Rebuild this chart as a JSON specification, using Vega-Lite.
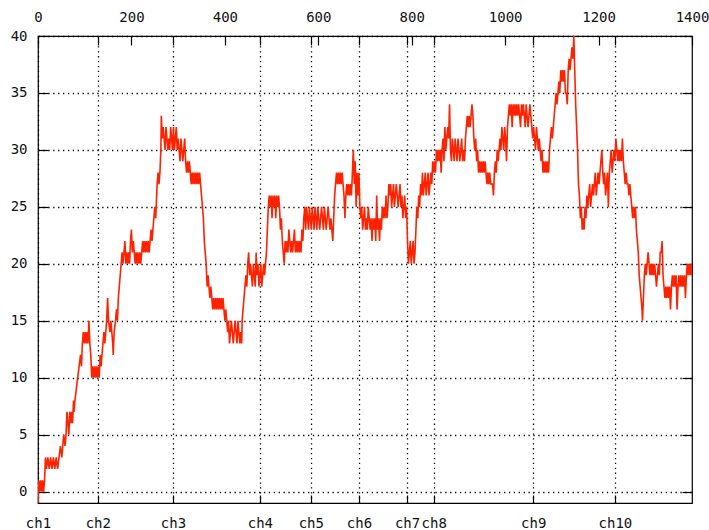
{
  "$schema": "https://vega.github.io/schema/vega-lite/v6.json",
  "width": 654,
  "height": 467,
  "autosize": {"type": "none"},
  "padding": {"left": 38, "top": 36, "right": 17, "bottom": 27},
  "background": "white",
  "config": {
    "view": {"stroke": "#000", "strokeWidth": 1.2},
    "axis": {
      "labelFont": "DejaVu Sans Mono",
      "labelFontSize": 14,
      "labelColor": "#111",
      "domain": false,
      "tickColor": "#000",
      "tickWidth": 1.2,
      "gridColor": "#000",
      "gridDash": [1.3, 3.6],
      "gridWidth": 1.3,
      "gridOpacity": 1,
      "title": null
    }
  },
  "data": {
    "values": [
      {"x":0,"y":-1},{"x":2,"y":1},{"x":4,"y":0},{"x":6,"y":1},{"x":8,"y":0},{"x":10,"y":1},{"x":12,"y":0},{"x":14,"y":1},
      {"x":16,"y":3},{"x":18,"y":2},{"x":21,"y":3},{"x":24,"y":2},{"x":27,"y":3},{"x":30,"y":2},{"x":33,"y":3},{"x":36,"y":2},{"x":39,"y":3},{"x":42,"y":2},{"x":45,"y":3},
      {"x":48,"y":4},{"x":51,"y":3},{"x":53,"y":4},{"x":55,"y":5},{"x":58,"y":4},{"x":60,"y":5},
      {"x":62,"y":7},{"x":64,"y":6},{"x":66,"y":5},{"x":68,"y":7},{"x":70,"y":6},{"x":72,"y":7},{"x":74,"y":6},{"x":76,"y":8},{"x":77,"y":7},{"x":79,"y":8},
      {"x":82,"y":9},{"x":85,"y":10},{"x":88,"y":11},{"x":91,"y":12},{"x":93,"y":11},{"x":95,"y":13},
      {"x":97,"y":14},{"x":99,"y":13},{"x":101,"y":14},{"x":103,"y":13},{"x":105,"y":14},{"x":107,"y":13},{"x":109,"y":15},{"x":111,"y":13},{"x":113,"y":12},
      {"x":115,"y":10},{"x":117,"y":11},{"x":119,"y":10},{"x":121,"y":11},{"x":123,"y":10},{"x":125,"y":11},{"x":127,"y":10},{"x":129,"y":11},{"x":131,"y":10},{"x":133,"y":12},{"x":135,"y":11},{"x":137,"y":12},
      {"x":139,"y":13},{"x":141,"y":14},{"x":143,"y":13},{"x":145,"y":14},{"x":147,"y":15},{"x":149,"y":17},{"x":151,"y":15},{"x":154,"y":14},{"x":156,"y":15},{"x":158,"y":14},{"x":160,"y":13},{"x":161,"y":12},{"x":163,"y":14},{"x":166,"y":15},{"x":168,"y":16},{"x":170,"y":15},{"x":172,"y":17},{"x":174,"y":18},
      {"x":176,"y":19},{"x":178,"y":20},{"x":180,"y":21},{"x":182,"y":20},{"x":184,"y":21},{"x":186,"y":22},{"x":188,"y":20},{"x":190,"y":21},{"x":192,"y":20},{"x":194,"y":21},{"x":196,"y":20},{"x":198,"y":22},{"x":200,"y":23},{"x":202,"y":21},{"x":204,"y":22},{"x":206,"y":21},{"x":208,"y":20},
      {"x":210,"y":21},{"x":212,"y":20},{"x":214,"y":21},{"x":216,"y":20},{"x":218,"y":21},{"x":220,"y":20},{"x":222,"y":21},{"x":224,"y":22},{"x":226,"y":21},{"x":228,"y":22},{"x":230,"y":21},{"x":232,"y":22},{"x":234,"y":21},{"x":236,"y":22},{"x":238,"y":21},{"x":240,"y":22},
      {"x":242,"y":23},{"x":244,"y":22},{"x":246,"y":23},{"x":248,"y":24},{"x":250,"y":25},{"x":252,"y":24},{"x":254,"y":26},{"x":255,"y":27},{"x":257,"y":28},{"x":259,"y":27},{"x":261,"y":28},{"x":263,"y":30},{"x":264,"y":33},{"x":266,"y":31},{"x":268,"y":32},{"x":270,"y":31},{"x":272,"y":30},{"x":274,"y":32},{"x":276,"y":31},
      {"x":278,"y":30},{"x":280,"y":31},{"x":282,"y":30},{"x":284,"y":32},{"x":286,"y":31},{"x":288,"y":30},{"x":290,"y":32},{"x":292,"y":30},{"x":294,"y":31},{"x":296,"y":32},{"x":298,"y":30},{"x":300,"y":31},
      {"x":302,"y":30},{"x":304,"y":29},{"x":306,"y":31},{"x":308,"y":30},{"x":310,"y":29},{"x":312,"y":30},{"x":314,"y":31},{"x":316,"y":29},{"x":318,"y":28},{"x":320,"y":29},{"x":322,"y":28},{"x":324,"y":29},{"x":326,"y":28},{"x":328,"y":27},
      {"x":330,"y":28},{"x":332,"y":27},{"x":334,"y":28},{"x":336,"y":27},{"x":338,"y":28},{"x":340,"y":27},{"x":342,"y":28},{"x":344,"y":27},{"x":346,"y":28},{"x":348,"y":27},{"x":350,"y":26},{"x":352,"y":25},{"x":354,"y":24},{"x":356,"y":22},{"x":358,"y":21},{"x":360,"y":20},{"x":361,"y":19},
      {"x":362,"y":18},{"x":364,"y":19},{"x":366,"y":18},{"x":368,"y":17},{"x":370,"y":18},{"x":372,"y":17},{"x":374,"y":16},{"x":376,"y":17},{"x":378,"y":16},{"x":380,"y":17},{"x":382,"y":16},{"x":384,"y":17},{"x":386,"y":16},{"x":388,"y":17},{"x":390,"y":16},{"x":392,"y":17},{"x":394,"y":16},{"x":396,"y":17},{"x":398,"y":16},{"x":400,"y":15},{"x":402,"y":16},{"x":404,"y":15},
      {"x":406,"y":14},{"x":408,"y":15},{"x":410,"y":13},{"x":412,"y":14},{"x":414,"y":15},{"x":416,"y":14},{"x":418,"y":13},{"x":420,"y":14},{"x":422,"y":15},{"x":424,"y":14},{"x":426,"y":13},{"x":428,"y":15},{"x":430,"y":14},{"x":432,"y":13},{"x":434,"y":14},{"x":436,"y":13},
      {"x":437,"y":15},{"x":439,"y":16},{"x":441,"y":17},{"x":443,"y":18},{"x":445,"y":19},{"x":447,"y":18},{"x":449,"y":20},{"x":451,"y":21},{"x":453,"y":19},{"x":455,"y":20},
      {"x":457,"y":19},{"x":459,"y":18},{"x":461,"y":20},{"x":463,"y":19},{"x":465,"y":18},{"x":467,"y":21},{"x":469,"y":19},{"x":471,"y":20},{"x":473,"y":18},{"x":475,"y":19},{"x":477,"y":20},{"x":479,"y":18},{"x":481,"y":19},{"x":483,"y":20},{"x":485,"y":19},{"x":487,"y":20},{"x":489,"y":21},
      {"x":491,"y":23},{"x":493,"y":25},{"x":495,"y":26},{"x":497,"y":25},{"x":499,"y":26},{"x":501,"y":24},{"x":503,"y":26},{"x":505,"y":25},{"x":507,"y":26},{"x":509,"y":24},{"x":511,"y":26},{"x":513,"y":25},{"x":515,"y":26},{"x":517,"y":25},
      {"x":519,"y":23},{"x":521,"y":24},{"x":523,"y":22},{"x":525,"y":21},{"x":527,"y":20},{"x":529,"y":22},
      {"x":531,"y":21},{"x":533,"y":22},{"x":535,"y":21},{"x":537,"y":23},{"x":539,"y":22},{"x":541,"y":21},{"x":543,"y":22},{"x":545,"y":21},{"x":547,"y":22},{"x":549,"y":23},{"x":551,"y":21},{"x":553,"y":22},{"x":555,"y":21},{"x":557,"y":22},{"x":559,"y":21},{"x":561,"y":22},{"x":563,"y":21},
      {"x":565,"y":23},{"x":567,"y":22},{"x":569,"y":24},{"x":571,"y":25},{"x":573,"y":23},{"x":575,"y":25},{"x":577,"y":24},{"x":579,"y":23},{"x":581,"y":25},
      {"x":583,"y":24},{"x":585,"y":23},{"x":587,"y":25},{"x":589,"y":24},{"x":591,"y":23},{"x":593,"y":25},{"x":595,"y":24},{"x":597,"y":23},{"x":599,"y":25},{"x":601,"y":24},{"x":603,"y":23},{"x":605,"y":24},{"x":607,"y":25},{"x":609,"y":24},{"x":611,"y":23},{"x":613,"y":25},{"x":615,"y":24},{"x":617,"y":23},{"x":619,"y":24},{"x":621,"y":25},{"x":623,"y":24},{"x":625,"y":23},{"x":627,"y":24},{"x":629,"y":23},{"x":631,"y":22},{"x":633,"y":24},
      {"x":635,"y":26},{"x":637,"y":27},{"x":639,"y":28},{"x":641,"y":27},{"x":643,"y":28},{"x":645,"y":27},{"x":647,"y":28},{"x":649,"y":27},{"x":651,"y":28},{"x":653,"y":27},{"x":655,"y":26},{"x":657,"y":24},{"x":659,"y":26},
      {"x":661,"y":27},{"x":663,"y":26},{"x":665,"y":27},{"x":667,"y":26},{"x":669,"y":27},{"x":671,"y":26},{"x":673,"y":28},{"x":675,"y":30},{"x":677,"y":27},{"x":679,"y":29},{"x":681,"y":25},{"x":683,"y":28},{"x":685,"y":26},{"x":687,"y":28},{"x":689,"y":25},
      {"x":691,"y":24},{"x":693,"y":25},{"x":695,"y":23},{"x":697,"y":24},{"x":699,"y":25},{"x":701,"y":23},{"x":703,"y":24},{"x":705,"y":23},{"x":707,"y":25},{"x":709,"y":24},{"x":711,"y":23},{"x":713,"y":24},{"x":715,"y":22},
      {"x":717,"y":24},{"x":719,"y":23},{"x":721,"y":24},{"x":723,"y":22},{"x":725,"y":26},{"x":727,"y":23},{"x":729,"y":24},{"x":731,"y":22},{"x":733,"y":24},{"x":735,"y":23},{"x":737,"y":25},
      {"x":739,"y":24},{"x":741,"y":25},{"x":743,"y":24},{"x":745,"y":26},{"x":747,"y":24},{"x":749,"y":25},
      {"x":751,"y":27},{"x":753,"y":26},{"x":755,"y":27},{"x":757,"y":25},{"x":759,"y":26},{"x":761,"y":27},{"x":763,"y":25},{"x":765,"y":26},{"x":767,"y":27},{"x":769,"y":26},{"x":771,"y":25},{"x":773,"y":26},{"x":775,"y":27},
      {"x":777,"y":25},{"x":779,"y":26},{"x":781,"y":24},{"x":783,"y":25},{"x":785,"y":26},{"x":787,"y":24},{"x":789,"y":25},
      {"x":791,"y":22},{"x":793,"y":20},{"x":795,"y":21},{"x":797,"y":22},{"x":799,"y":20},{"x":801,"y":21},{"x":803,"y":22},{"x":805,"y":20},{"x":807,"y":21},
      {"x":809,"y":23},{"x":811,"y":25},{"x":813,"y":24},{"x":815,"y":26},{"x":817,"y":25},
      {"x":819,"y":27},{"x":821,"y":26},{"x":823,"y":28},{"x":825,"y":26},{"x":827,"y":27},{"x":829,"y":28},{"x":831,"y":26},{"x":833,"y":27},{"x":835,"y":28},{"x":837,"y":26},{"x":839,"y":27},{"x":841,"y":28},
      {"x":843,"y":27},{"x":845,"y":29},{"x":847,"y":28},{"x":849,"y":29},{"x":851,"y":28},{"x":853,"y":30},{"x":855,"y":29},{"x":857,"y":30},{"x":859,"y":29},{"x":861,"y":30},{"x":863,"y":28},
      {"x":865,"y":30},{"x":867,"y":31},{"x":869,"y":29},{"x":871,"y":32},{"x":873,"y":30},{"x":875,"y":31},{"x":877,"y":32},{"x":879,"y":31},{"x":881,"y":34},
      {"x":883,"y":30},{"x":885,"y":29},{"x":887,"y":31},{"x":889,"y":30},{"x":891,"y":29},{"x":893,"y":31},{"x":895,"y":30},{"x":897,"y":29},{"x":899,"y":31},{"x":901,"y":30},{"x":903,"y":29},{"x":905,"y":30},{"x":907,"y":31},{"x":909,"y":29},{"x":911,"y":30},{"x":913,"y":29},{"x":915,"y":31},
      {"x":917,"y":32},{"x":919,"y":33},{"x":921,"y":32},{"x":923,"y":33},{"x":925,"y":32},{"x":927,"y":33},{"x":929,"y":34},{"x":931,"y":33},
      {"x":933,"y":31},{"x":935,"y":30},{"x":937,"y":31},{"x":939,"y":29},{"x":941,"y":30},{"x":943,"y":28},{"x":945,"y":29},{"x":947,"y":28},
      {"x":949,"y":29},{"x":951,"y":28},{"x":953,"y":29},{"x":955,"y":28},{"x":957,"y":29},{"x":959,"y":28},{"x":961,"y":27},{"x":963,"y":28},{"x":965,"y":27},{"x":967,"y":28},{"x":969,"y":27},{"x":971,"y":27},{"x":973,"y":27},{"x":975,"y":26},{"x":977,"y":28},
      {"x":979,"y":29},{"x":981,"y":28},{"x":983,"y":30},{"x":985,"y":29},{"x":987,"y":30},{"x":989,"y":31},{"x":991,"y":30},{"x":993,"y":32},{"x":995,"y":31},{"x":997,"y":30},{"x":999,"y":32},{"x":1001,"y":31},{"x":1003,"y":29},
      {"x":1005,"y":32},{"x":1007,"y":33},{"x":1009,"y":34},{"x":1011,"y":33},{"x":1013,"y":34},{"x":1015,"y":32},{"x":1017,"y":34},{"x":1019,"y":33},{"x":1021,"y":34},{"x":1023,"y":33},{"x":1025,"y":34},{"x":1027,"y":33},{"x":1029,"y":34},{"x":1031,"y":33},{"x":1033,"y":32},{"x":1035,"y":34},{"x":1037,"y":33},{"x":1039,"y":34},{"x":1041,"y":33},{"x":1043,"y":32},{"x":1045,"y":34},
      {"x":1047,"y":33},{"x":1049,"y":32},{"x":1051,"y":33},{"x":1053,"y":34},{"x":1055,"y":33},{"x":1057,"y":32},
      {"x":1059,"y":31},{"x":1061,"y":32},{"x":1063,"y":31},{"x":1065,"y":30},{"x":1067,"y":32},{"x":1069,"y":31},{"x":1071,"y":30},{"x":1073,"y":31},{"x":1075,"y":30},
      {"x":1077,"y":29},{"x":1079,"y":30},{"x":1081,"y":28},{"x":1083,"y":29},{"x":1085,"y":28},{"x":1087,"y":29},{"x":1089,"y":28},{"x":1091,"y":29},{"x":1093,"y":28},
      {"x":1095,"y":30},{"x":1097,"y":31},{"x":1099,"y":32},{"x":1101,"y":31},{"x":1103,"y":32},{"x":1105,"y":33},
      {"x":1107,"y":34},{"x":1109,"y":35},{"x":1111,"y":34},{"x":1113,"y":35},{"x":1115,"y":36},{"x":1117,"y":35},
      {"x":1119,"y":37},{"x":1121,"y":36},{"x":1123,"y":37},{"x":1125,"y":36},{"x":1127,"y":37},{"x":1129,"y":35},{"x":1131,"y":35},{"x":1133,"y":34},
      {"x":1135,"y":37},{"x":1137,"y":38},{"x":1139,"y":37},{"x":1141,"y":38},{"x":1143,"y":39},{"x":1145,"y":38},{"x":1147,"y":40},
      {"x":1149,"y":37},{"x":1151,"y":34},{"x":1153,"y":32},{"x":1155,"y":30},{"x":1157,"y":27},{"x":1159,"y":26},
      {"x":1161,"y":24},{"x":1163,"y":25},{"x":1165,"y":23},{"x":1167,"y":24},{"x":1169,"y":23},{"x":1171,"y":25},{"x":1173,"y":24},{"x":1175,"y":26},
      {"x":1177,"y":25},{"x":1179,"y":26},{"x":1181,"y":27},{"x":1183,"y":25},{"x":1185,"y":26},{"x":1187,"y":27},{"x":1189,"y":26},
      {"x":1191,"y":27},{"x":1193,"y":28},{"x":1195,"y":26},{"x":1197,"y":27},{"x":1199,"y":28},{"x":1201,"y":27},{"x":1203,"y":28},{"x":1205,"y":29},{"x":1207,"y":30},
      {"x":1209,"y":28},{"x":1211,"y":27},{"x":1213,"y":28},{"x":1215,"y":26},{"x":1217,"y":27},{"x":1219,"y":28},{"x":1221,"y":25},
      {"x":1223,"y":28},{"x":1225,"y":29},{"x":1227,"y":30},{"x":1229,"y":28},{"x":1231,"y":29},{"x":1233,"y":30},{"x":1235,"y":29},{"x":1237,"y":31},{"x":1239,"y":30},
      {"x":1241,"y":29},{"x":1243,"y":30},{"x":1245,"y":29},{"x":1247,"y":30},{"x":1249,"y":29},{"x":1251,"y":31},
      {"x":1253,"y":29},{"x":1255,"y":28},{"x":1257,"y":27},{"x":1259,"y":28},{"x":1261,"y":27},{"x":1263,"y":27},{"x":1265,"y":26},{"x":1267,"y":27},{"x":1269,"y":26},{"x":1271,"y":25},
      {"x":1273,"y":24},{"x":1275,"y":25},{"x":1277,"y":24},{"x":1279,"y":25},{"x":1281,"y":23},{"x":1283,"y":22},{"x":1285,"y":21},{"x":1287,"y":19},{"x":1289,"y":18},{"x":1291,"y":17},{"x":1293,"y":16},{"x":1294,"y":15},{"x":1296,"y":17},{"x":1298,"y":19},
      {"x":1300,"y":20},{"x":1302,"y":19},{"x":1304,"y":20},{"x":1306,"y":21},{"x":1308,"y":20},{"x":1310,"y":19},{"x":1312,"y":20},{"x":1314,"y":19},{"x":1316,"y":20},{"x":1318,"y":19},{"x":1320,"y":20},{"x":1322,"y":19},{"x":1324,"y":18},{"x":1326,"y":19},{"x":1328,"y":20},{"x":1330,"y":19},{"x":1332,"y":21},
      {"x":1334,"y":21},{"x":1336,"y":22},{"x":1338,"y":19},
      {"x":1340,"y":18},{"x":1342,"y":17},{"x":1344,"y":18},{"x":1346,"y":17},{"x":1348,"y":18},{"x":1350,"y":17},{"x":1352,"y":18},{"x":1354,"y":16},
      {"x":1356,"y":18},{"x":1358,"y":19},{"x":1360,"y":18},{"x":1362,"y":19},{"x":1364,"y":18},{"x":1366,"y":19},{"x":1368,"y":16},
      {"x":1370,"y":18},{"x":1372,"y":19},{"x":1374,"y":18},{"x":1376,"y":19},{"x":1378,"y":18},{"x":1380,"y":19},{"x":1382,"y":18},{"x":1384,"y":19},{"x":1386,"y":17},
      {"x":1388,"y":19},{"x":1390,"y":20},{"x":1392,"y":19},{"x":1394,"y":20},{"x":1396,"y":19},{"x":1398,"y":20},{"x":1400,"y":19}
    ]
  },
  "layer": [
    {
      "mark": {"type": "line", "color": "#ff2200", "strokeWidth": 1.6, "clip": true},
      "encoding": {
        "x": {
          "field": "x", "type": "quantitative",
          "scale": {"domain": [0, 1400], "nice": false, "zero": false},
          "axis": {
            "orient": "bottom",
            "values": [0, 128, 289, 475, 584, 687, 790, 847, 1060, 1235],
            "labelExpr": "'ch' + (indexof([0, 128, 289, 475, 584, 687, 790, 847, 1060, 1235], datum.value) + 1)",
            "grid": true,
            "tickSize": -8,
            "labelPadding": 21,
            "labelFlush": false,
            "labelOverlap": false
          }
        },
        "y": {
          "field": "y", "type": "quantitative",
          "scale": {"domain": [-1, 40], "nice": false, "zero": false},
          "axis": {
            "orient": "left",
            "values": [0, 5, 10, 15, 20, 25, 30, 35, 40],
            "grid": true,
            "tickSize": -10,
            "labelPadding": 21,
            "labelFlush": false,
            "labelOverlap": false
          }
        }
      }
    },
    {
      "mark": {"type": "line", "opacity": 0},
      "encoding": {
        "x": {
          "field": "x", "type": "quantitative",
          "axis": {
            "orient": "top",
            "values": [0, 200, 400, 600, 800, 1000, 1200, 1400],
            "format": "d",
            "grid": false,
            "tickSize": -9,
            "labelPadding": 21,
            "labelFlush": false,
            "labelOverlap": false
          }
        },
        "y": {
          "field": "y", "type": "quantitative",
          "axis": {
            "orient": "right",
            "values": [0, 5, 10, 15, 20, 25, 30, 35, 40],
            "grid": false,
            "labels": false,
            "tickSize": -10
          }
        }
      }
    },
    {
      "mark": {"type": "line", "opacity": 0},
      "encoding": {
        "x": {
          "field": "x", "type": "quantitative",
          "axis": {
            "orient": "top",
            "values": [128, 289, 475, 584, 687, 790, 847, 1060, 1235],
            "grid": false,
            "labels": false,
            "tickSize": -9
          }
        },
        "y": {"field": "y", "type": "quantitative", "axis": null}
      }
    }
  ],
  "resolve": {"axis": {"x": "independent", "y": "independent"}}
}
